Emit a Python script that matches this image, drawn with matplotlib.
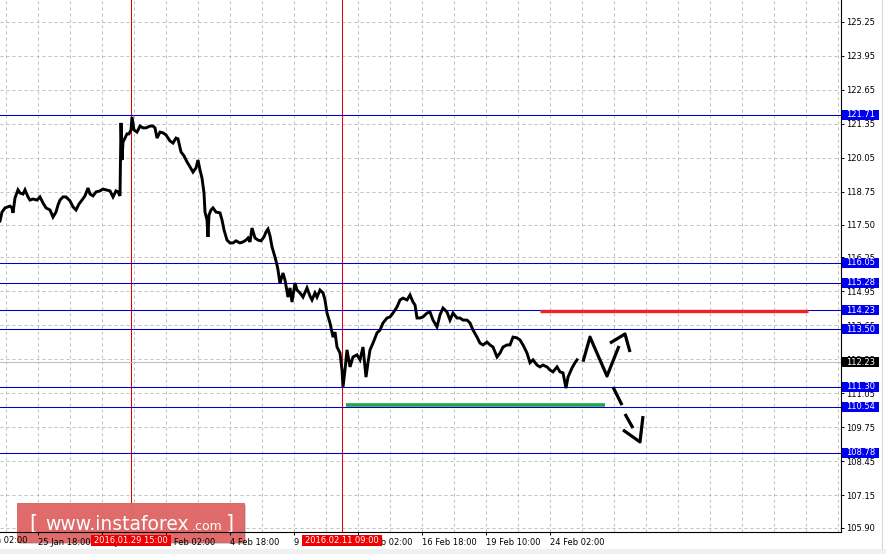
import matplotlib.pyplot as plt
from matplotlib.patches import Rectangle, FancyBboxPatch
from matplotlib.transforms import blended_transform_factory

# H1 bars, one pixel per bar; price
bars = [0, 2, 5, 8, 10, 12, 13, 15, 18, 20, 23, 25, 28, 30, 33, 37, 40, 43, 46, 50,
        53, 56, 58, 60, 63, 66, 70, 73, 76, 79, 82, 85, 88, 90, 93, 96, 100, 103, 106, 110,
        113, 116, 118, 120, 121, 122, 123, 125, 127, 129, 131, 132, 134, 137, 140, 143, 146, 150, 153, 155,
        157, 160, 163, 166, 170, 173, 176, 178, 181, 184, 187, 190, 193, 196, 198, 200, 202, 204, 205, 207,
        208, 209, 211, 213, 216, 220, 222, 224, 227, 230, 233, 236, 240, 243, 246, 248, 250, 252, 255, 258,
        261, 264, 266, 268, 270, 272, 275, 277, 278, 279, 280, 283, 285, 288, 290, 292, 295, 297, 300, 303,
        307, 310, 312, 315, 317, 320, 323, 325, 327, 330, 333, 335, 337, 340, 342, 343, 345, 347, 350, 353,
        357, 360, 363, 366, 368, 370, 373, 377, 380, 383, 387, 390, 393, 397, 400, 403, 407, 410, 413, 415,
        417, 420, 423, 427, 430, 433, 437, 440, 443, 447, 450, 453, 457, 460, 463, 467, 470, 473, 477, 480,
        483, 487, 490, 493, 497, 500, 503, 507, 510, 513, 517, 520, 523, 527, 530, 533, 537, 540, 543, 547,
        550, 553, 557, 560, 563, 566, 568, 572, 575, 577]
prices = [117.64, 117.98, 118.14, 118.18, 118.21, 118.14, 117.95, 118.52, 118.83, 118.71,
          118.67, 118.83, 118.56, 118.44, 118.48, 118.44, 118.56, 118.33, 118.14, 118.06,
          117.79, 117.98, 118.25, 118.44, 118.56, 118.56, 118.41, 118.18, 118.06, 118.29,
          118.44, 118.60, 118.90, 118.67, 118.60, 118.75, 118.79, 118.86, 118.83, 118.79,
          118.56, 118.79, 118.75, 118.60, 121.39, 119.97, 120.66, 120.81, 120.97, 120.97,
          121.12, 121.62, 121.12, 121.04, 121.27, 121.20, 121.20, 121.27, 121.27, 121.20,
          120.81, 121.04, 121.01, 120.93, 120.70, 120.62, 120.81, 120.78, 120.28, 120.13,
          119.90, 119.71, 119.51, 119.67, 119.97, 119.59, 119.28, 118.71, 117.98, 117.68,
          117.03, 117.87, 118.06, 118.14, 117.98, 117.95, 117.68, 117.30, 116.91, 116.80,
          116.80, 116.88, 116.80, 116.84, 116.91, 116.99, 116.84, 117.37, 116.99, 116.91,
          116.88, 117.03, 117.22, 117.33, 117.07, 116.65, 116.26, 115.96, 115.77, 115.50,
          115.27, 115.65, 115.38, 114.73, 115.08, 114.54, 115.27, 115.00, 114.89, 114.73,
          115.08, 114.77, 114.62, 114.89, 114.73, 115.00, 114.89, 114.62, 114.12, 113.74,
          113.20, 113.39, 112.82, 112.59, 111.94, 111.29, 111.94, 112.71, 112.06, 112.44,
          112.52, 112.33, 112.82, 111.67, 112.22, 112.71, 112.97, 113.36, 113.47, 113.74,
          113.93, 113.97, 114.12, 114.35, 114.62, 114.69, 114.62, 114.81, 114.54, 114.43,
          113.93, 113.93, 113.97, 114.12, 114.16, 113.85, 113.59, 114.05, 114.31, 114.16,
          113.85, 114.12, 113.93, 113.93, 113.85, 113.85, 113.74, 113.47, 113.20, 112.97,
          112.90, 113.01, 112.90, 112.82, 112.44, 112.59, 112.82, 112.90, 112.90, 113.20,
          113.17, 113.09, 112.90, 112.59, 112.22, 112.33, 112.13, 112.06, 112.13, 112.06,
          111.94, 111.87, 112.06, 111.87, 111.83, 111.25, 111.67, 112.02, 112.22, 112.33]

levels = [121.71, 116.05, 115.28, 114.23, 113.50, 111.30, 110.54, 108.78]
last_price = 112.23
resistance = 114.18
resistance_bars = [540, 808]
support = 110.62
support_bars = [346, 605]

# hand-drawn forecast strokes (bar, price)
up_bars = [583, 590, 607, 619]
up_prices = [112.26, 113.20, 111.71, 112.86]
up_head_bars = [610, 625, 630]
up_head_prices = [112.97, 113.32, 112.63]
down1_bars = [613, 622]
down1_prices = [111.29, 110.60]
down2_bars = [625, 633]
down2_prices = [110.26, 109.72]
down_head_bars = [623, 640, 643]
down_head_prices = [109.65, 109.19, 110.18]

time_marks = [131, 342]
time_mark_labels = ['2016.01.29 15:00', '2016.02.11 09:00']

yticks = [125.25, 123.95, 122.65, 121.35, 120.05, 118.75, 117.50, 116.25,
          114.95, 113.65, 112.35, 111.05, 109.75, 108.45, 107.15, 105.90]
xticks = [38, 102, 166, 230, 294, 358, 422, 486, 550]
xtick_labels = ['25 Jan 18:00', '28 Jan 10:00', '2 Feb 02:00', '4 Feb 18:00', '9 Feb 10:00',
                '12 Feb 02:00', '16 Feb 18:00', '19 Feb 10:00', '24 Feb 02:00']
grid_x = list(range(6, 841, 32))

W, H = 887, 554
fig = plt.figure(figsize=(W / 100, H / 100), dpi=100)
ax = fig.add_axes([0, 22 / H, 841 / W, 532 / H])
ax.set_xlim(0, 841)
ax.set_ylim(105.747, 126.09)
px = 26.15  # pixels per price unit

ax.hlines(yticks, 0, 841, colors='#c0c0c0', lw=0.72, linestyles=(0, (3, 3)), zorder=0.5)
ax.vlines(grid_x, 105.747, 126.09, colors='#c0c0c0', lw=0.72, linestyles=(0, (3, 3)), zorder=0.5)

for b in time_marks:
    ax.axvline(b, color='#e00000', lw=0.75, zorder=0.8)

for lv in levels:
    ax.axhline(lv, color='#0000c8', lw=0.75, zorder=2)
ax.axhline(last_price, color='#c0c0c0', lw=0.75, zorder=2)

ax.plot(bars, prices, color='black', lw=2.1, solid_joinstyle='miter', zorder=3)

ax.plot(resistance_bars, [resistance] * 2, color='#ee2222', lw=2.4, solid_capstyle='butt', zorder=3)
ax.plot(support_bars, [support] * 2, color='#22a544', lw=2.6, solid_capstyle='butt', zorder=3)

for xs, ys in [(up_bars, up_prices), (up_head_bars, up_head_prices), (down1_bars, down1_prices),
               (down2_bars, down2_prices), (down_head_bars, down_head_prices)]:
    ax.plot(xs, ys, color='black', lw=2.3, solid_capstyle='butt', zorder=3)

for sp in ['top', 'left']:
    ax.spines[sp].set_visible(False)
for sp in ['right', 'bottom']:
    ax.spines[sp].set_linewidth(0.8)

ax.yaxis.tick_right()
ax.set_yticks(yticks)
ax.set_yticklabels(['%.2f' % v for v in yticks])
ax.tick_params(axis='y', length=2.5, width=0.7, pad=1.5, labelsize=6)
ax.set_xticks(xticks)
ax.set_xticklabels(xtick_labels, ha='left')
ax.tick_params(axis='x', length=2.5, width=0.7, pad=1.5, labelsize=6)

# price labels on the right axis
ty = blended_transform_factory(ax.transAxes, ax.transData)
for lv in levels + [last_price]:
    fc = 'black' if lv == last_price else '#0000f0'
    ax.add_patch(Rectangle((842.5 / 841, lv - 5 / px), 36.5 / 841, 10 / px, transform=ty,
                           facecolor=fc, edgecolor='none', clip_on=False, zorder=5))
    ax.text(861 / 841, lv, '%.2f' % lv, transform=ty, ha='center', va='center',
            color='white', fontsize=6, clip_on=False, zorder=6)

# time labels under the vertical lines
tx = blended_transform_factory(ax.transData, ax.transAxes)
for b, lab in zip(time_marks, time_mark_labels):
    ax.add_patch(Rectangle((b - 40, -14 / 532), 80, 11 / 532, transform=tx,
                           facecolor='#f00000', edgecolor='none', clip_on=False, zorder=5))
    ax.text(b, -8.7 / 532, lab, transform=tx, ha='center', va='center',
            color='white', fontsize=6, clip_on=False, zorder=6)
ax.text(-25, -8.7 / 532, '21 Jan 02:00', transform=tx, ha='left', va='center',
        fontsize=6, clip_on=False)

# logo
tf = fig.transFigure
ax.add_patch(FancyBboxPatch((19 / W, 10 / H), 227 / W, 39 / H, boxstyle='square,pad=0',
                            transform=tf, facecolor='#a0a0a0', edgecolor='none', alpha=0.5,
                            clip_on=False, zorder=1.1))
ax.add_patch(FancyBboxPatch((17 / W, 12 / H), 227 / W, 39 / H, boxstyle='square,pad=0',
                            transform=tf, facecolor='#e06666', edgecolor='#d05a5a', lw=0.6,
                            alpha=0.95, clip_on=False, zorder=1.2))
ax.text(29 / W, 24 / H, '[', transform=tf, fontsize=15, color='white', va='baseline',
        clip_on=False, zorder=1.3)
ax.text(45 / W, 24 / H, 'www.instaforex', transform=tf, fontsize=13.5, color='white',
        va='baseline', clip_on=False, zorder=1.3)
ax.text(192 / W, 24 / H, '.com', transform=tf, fontsize=9, color='white',
        va='baseline', clip_on=False, zorder=1.3)
ax.text(226 / W, 24 / H, ']', transform=tf, fontsize=15, color='white', va='baseline',
        clip_on=False, zorder=1.3)

# window edges
fig.add_artist(Rectangle((0, 0), 1, 5 / H, transform=tf, facecolor='#f0f0f0', edgecolor='none'))
fig.add_artist(plt.Line2D([882 / W, 882 / W], [5 / H, 1], transform=tf, color='#d8d8d8', lw=0.8))

fig.savefig('out.png', dpi=100)
